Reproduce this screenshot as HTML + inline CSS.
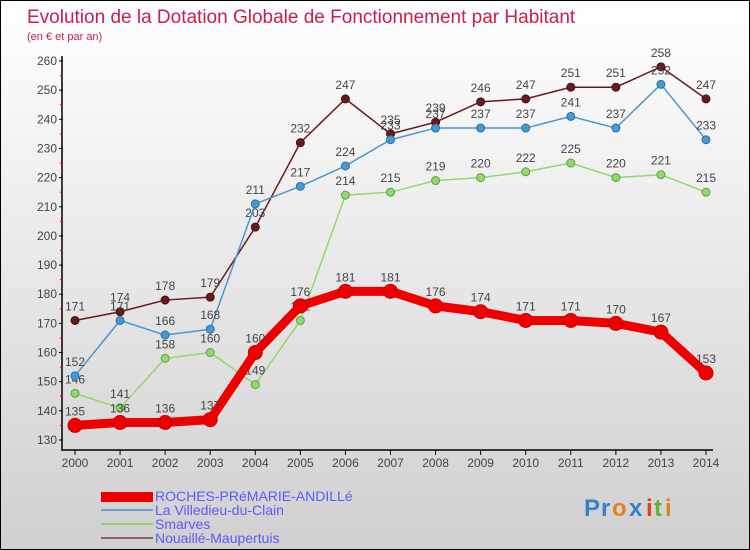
<!DOCTYPE html>
<html><head><meta charset="utf-8"><style>
body{margin:0;}
#wrap{position:relative;width:748px;height:548px;border:1px solid #000;background:linear-gradient(#ffffff,#d0d0d0);font-family:"Liberation Sans",sans-serif;overflow:hidden}
</style></head><body>
<div id="wrap">
<svg id="chart" width="748" height="548">
<text x="26" y="22" font-size="19" fill="#c8204a">Evolution de la Dotation Globale de Fonctionnement par Habitant</text>
<text x="26" y="39" font-size="11" fill="#c8204a">(en € et par an)</text>
<g id="axes"></g><g id="series"></g>
<g>
<rect x="100" y="491" width="52" height="10" fill="#ee0000"/>
<text x="154" y="500" font-size="14" fill="#5a5aff">ROCHES-PRéMARIE-ANDILLé</text>
<rect x="100" y="508" width="52" height="2" fill="#6aa0d0"/>
<text x="154" y="514" font-size="14" fill="#5a5aff">La Villedieu-du-Clain</text>
<rect x="100" y="522" width="52" height="2" fill="#90d070"/>
<text x="154" y="528" font-size="14" fill="#5a5aff">Smarves</text>
<rect x="100" y="536" width="52" height="2" fill="#906060"/>
<text x="154" y="542" font-size="14" fill="#5a5aff">Nouaillé-Maupertuis</text>
</g>
<g font-size="24" font-weight="bold">
<text x="583" y="515" fill="#3a80c8">P</text><text x="600" y="515" fill="#3a80c8">r</text><text x="611" y="515" fill="#e08020">o</text><text x="628" y="515" fill="#3a80c8">x</text><text x="645" y="515" fill="#e04020">i</text><text x="653" y="515" fill="#60b040">t</text><text x="664" y="515" fill="#e08020">i</text>
</g>
</svg>
</div>
<script>
const years=[2000,2001,2002,2003,2004,2005,2006,2007,2008,2009,2010,2011,2012,2013,2014];
const yTicks=[130,140,150,160,170,180,190,200,210,220,230,240,250,260];
const roches=[135,136,136,137,160,176,181,181,176,174,171,171,170,167,153];
const villedieu=[152,171,166,168,211,217,224,233,237,237,237,241,237,252,233];
const smarves=[146,141,158,160,149,171,214,215,219,220,222,225,220,221,215];
const nouaille=[171,174,178,179,203,232,247,235,239,246,247,251,251,258,247];
const NS="http://www.w3.org/2000/svg";
function xs(i){return 74+i*(705-74)/14;}
function ys(v){return 439-(v-130)*(439-60)/130;}
function mk(t,a,p){const e=document.createElementNS(NS,t);for(const k in a)e.setAttribute(k,a[k]);p.appendChild(e);return e;}
const ax=document.getElementById('axes');
const yl=mk('line',{x1:61,y1:55,x2:61,y2:450,stroke:'#000','stroke-width':1.5},ax);


const xl=mk('line',{x1:61,y1:449,x2:712,y2:449,stroke:'#000','stroke-width':1.5},ax);


yTicks.forEach((v,i)=>{
 mk('line',{x1:58,y1:ys(v),x2:62,y2:ys(v),stroke:'#000'},ax);
 if(i<yTicks.length-1) mk('line',{x1:59,y1:ys(v+5),x2:62,y2:ys(v+5),stroke:'#e00'},ax);
 const t=mk('text',{x:56,y:ys(v)+4,'text-anchor':'end','font-size':12,fill:'#444'},ax);t.textContent=v;
 
 
});
years.forEach((y,i)=>{
 mk('line',{x1:xs(i),y1:449,x2:xs(i),y2:454,stroke:'#000'},ax);
 const t=mk('text',{x:xs(i),y:466,'text-anchor':'middle','font-size':12,fill:'#444'},ax);t.textContent=y;
 
 
});
const sg=document.getElementById('series');
function draw(data,color,w,r,name,stroke){
 const g=mk('g',{},sg);
 
 
 const pl=mk('polyline',{points:data.map((v,i)=>xs(i)+','+ys(v)).join(' '),fill:'none',stroke:color,'stroke-width':w,'stroke-linejoin':'round'},g);
 
 
 data.forEach((v,i)=>{
  const c=mk('circle',{cx:xs(i),cy:ys(v),r:r,fill:color,stroke:stroke,'stroke-width':1},g);
  
  
  const t=mk('text',{x:xs(i),y:ys(v)-10,'text-anchor':'middle','font-size':12,fill:'#444'},g);t.textContent=v;
  
  
 });
}
draw(nouaille,'#6a1a1a',1.5,4,'nouaille','#4a1010');
draw(smarves,'#90d870',1.5,4,'smarves','#60a040');
draw(villedieu,'#4a98d0',1.5,4,'villedieu','#2a70a8');
draw(roches,'#ee0000',9,7,'roches','#cc0000');
</script>
</body></html>
